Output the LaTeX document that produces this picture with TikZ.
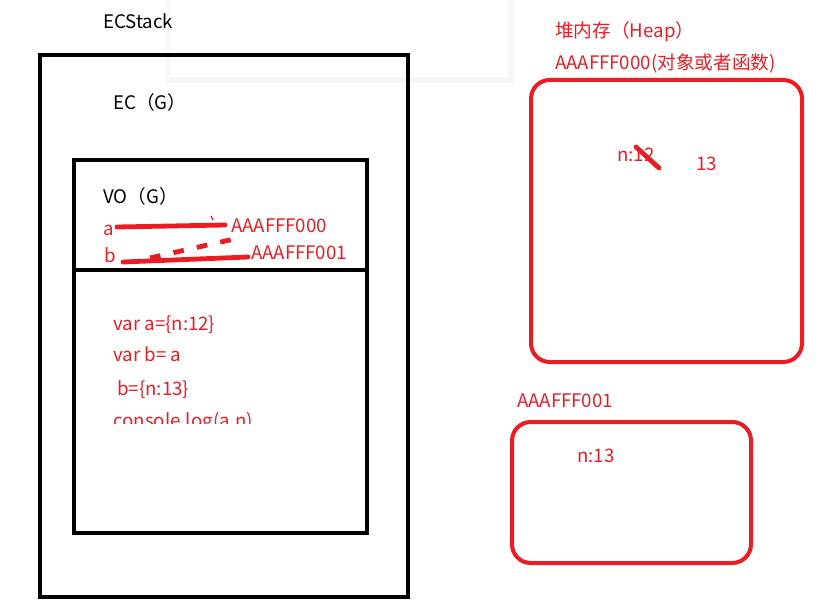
\documentclass[tikz,border=0pt]{standalone}
\usepackage{fontspec}
\setmainfont{Noto Sans CJK SC}
\definecolor{pred}{RGB}{236,28,36}
\begin{document}
\begin{tikzpicture}[x=0.75pt,y=-0.75pt,
  txt/.style={anchor=base west,inner sep=0pt,font=\fontsize{14}{16}\selectfont},
  rtxt/.style={txt,text=pred},
  blk/.style={draw=black,line width=3pt},
  rbox/.style={draw=pred,line width=3pt,rounded corners=14pt},
  stroke/.style={draw=pred,line width=3.6pt,line cap=round}]
\useasboundingbox (0,0) rectangle (822,613);
% popup with shadow
\fill[black!6] (168,0) rectangle (512,81);
\fill[black!3] (166,0) rectangle (514,83);
\fill[white] (170,0) rectangle (508,77);
% stack
\node[txt] (ecs) at (103,29) {ECStack};
\draw[blk] (40,55) rectangle (408,597);
\node[txt] (ec) at (113,110) {EC（G）};
\draw[blk] (74,160) rectangle (367,533);
\draw[blk] (74,270) -- (367,270);
\node[txt] (vo) at (103,204) {VO（G）};
\node[rtxt] (a) at (103,236) {a};
\node[rtxt] (b) at (104,263) {b};
\node[rtxt] (pa) at (231,233) {AAAFFF000};
\node[rtxt] (pb) at (251,260) {AAAFFF001};
\coordinate (a1) at (117,227);
\coordinate (a2) at (225,225);
\draw[stroke] (a1) -- (a2);
\draw[draw=pred,line width=1pt] (211,216) -- (213,220);
\coordinate (b1) at (123,262);
\coordinate (b2) at (248,257);
\draw[stroke] (b1) -- (b2);
\coordinate (d1) at (150,258);
\coordinate (d2) at (234,239);
\draw[draw=pred,line width=3.6pt,dash pattern=on 8pt off 10pt] (d1) -- (d2);
% code
\begin{scope}
\clip (80,275) rectangle (360,423);
\node[rtxt] (c1) at (113,330) {var a=\{n:12\}};
\node[rtxt] (c2) at (113,361) {var b= a};
\node[rtxt] (c3) at (117,395) {b=\{n:13\}};
\node[rtxt] (c4) at (113,427) {console.log(a.n)};
\end{scope}
% heap
\node[rtxt] (h1) at (555,38) {堆内存（Heap）};
\node[rtxt] (h2) at (555,70) {AAAFFF000(对象或者函数)};
\draw[rbox] (531,80) rectangle (802,362);
\node[rtxt] (n12) at (617,162) {n:12};
\coordinate (s1) at (636,147);
\coordinate (s2) at (659,168);
\draw[stroke] (s1) -- (s2);
\node[rtxt] (n13a) at (696,171) {13};
\node[rtxt] (h3) at (517,407) {AAAFFF001};
\draw[rbox] (512,422) rectangle (751,563);
\node[rtxt] (n13) at (577,462) {n:13};
\end{tikzpicture}
\end{document}
